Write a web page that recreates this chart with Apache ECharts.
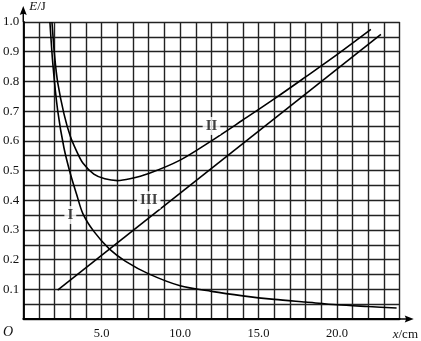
<!DOCTYPE html>
<html>
<head>
<meta charset="utf-8">
<script src="https://cdn.jsdelivr.net/npm/echarts@6/dist/echarts.min.js"></script>
<style>
html,body{margin:0;padding:0;background:#fff;}
#chart{width:421px;height:341px;}
</style>
</head>
<body>
<div id="chart"></div>
<script>
// Curve I (decreasing)
const curveIX = [1.70, 1.90, 2.2, 2.6, 3.0, 3.4, 3.8, 4.5, 5.5, 6.5, 8.0, 10.0, 12.0, 14.0, 16.0, 18.0, 20.0, 22.0, 23.8];
const curveIY = [1.0, 0.85, 0.70, 0.575, 0.49, 0.42, 0.355, 0.295, 0.235, 0.195, 0.152, 0.112, 0.093, 0.078, 0.066, 0.057, 0.048, 0.042, 0.037];
// Curve II (total)
const curveIIX = [1.83, 2.0, 2.2, 2.6, 3.0, 3.4, 3.8, 4.5, 5.2, 6.0, 6.8, 8.0, 10.0, 12.0, 14.0, 16.0, 18.0, 20.0, 22.16];
const curveIIY = [1.0, 0.885, 0.795, 0.69, 0.615, 0.565, 0.525, 0.488, 0.472, 0.466, 0.472, 0.49, 0.535, 0.60, 0.67, 0.741, 0.815, 0.89, 0.975];
// Line III (straight)
const lineIIIX = [2.19, 22.8];
const lineIIIY = [0.097, 0.958];
// Curve labels
const labelNames = ['I', 'II', 'III'];
const labelX = [3, 12, 8];
const labelY = [0.35, 0.65, 0.4];
// Ticks
const xTickLabels = [5, 10, 15, 20];
const yTickLabels = [0.1, 0.2, 0.3, 0.4, 0.5, 0.6, 0.7, 0.8, 0.9, 1.0];

const zip = (xs, ys) => xs.map((x, i) => [x, ys[i]]);
const serif = '"Liberation Serif", "DejaVu Serif", serif';
const gridLine = { color: '#222', width: 1.4 };
const curveStyle = { color: '#000', width: 1.6 };

const chart = echarts.init(document.getElementById('chart'), null, { renderer: 'canvas' });
chart.setOption({
  animation: false,
  backgroundColor: '#fff',
  grid: { left: 22, right: 17.5, top: 20.7, bottom: 20.3 },
  xAxis: {
    type: 'value', min: 0, max: 24, interval: 1,
    name: '{i|x}{n|/cm}', nameLocation: 'end', nameGap: -7,
    nameTextStyle: {
      align: 'left', verticalAlign: 'top', padding: [9, 0, 0, 0],
      rich: {
        i: { fontStyle: 'italic', fontFamily: serif, fontSize: 13, color: '#111' },
        n: { fontFamily: serif, fontSize: 13, color: '#111' }
      }
    },
    axisLine: {
      show: true, onZero: false,
      lineStyle: { color: '#000', width: 1.8 },
      symbol: ['none', 'path://M3.5,0 L7,9 L3.5,7.5 L0,9 Z M2.8,7 L4.2,7 L4.2,14 L2.8,14 Z'],
      symbolSize: [7, 14], symbolOffset: [0, 7]
    },
    axisTick: { show: false },
    axisLabel: {
      fontFamily: serif, fontSize: 12.5, color: '#111', margin: 8,
      formatter: v => (xTickLabels.indexOf(Math.round(v)) >= 0 && Math.abs(v - Math.round(v)) < 1e-6) ? v.toFixed(1) : ''
    },
    splitLine: { show: true, lineStyle: gridLine }
  },
  yAxis: {
    type: 'value', min: 0, max: 1, interval: 0.05,
    name: '{i|E}{n|/J}', nameLocation: 'end', nameGap: 9,
    nameTextStyle: {
      align: 'left', verticalAlign: 'bottom', padding: [0, 0, 0, 6],
      rich: {
        i: { fontStyle: 'italic', fontFamily: serif, fontSize: 13, color: '#111' },
        n: { fontFamily: serif, fontSize: 13, color: '#111' }
      }
    },
    axisLine: {
      show: true, onZero: false,
      lineStyle: { color: '#000', width: 1.8 },
      symbol: ['none', 'path://M3.5,0 L7,9 L3.5,7.5 L0,9 Z M2.8,7 L4.2,7 L4.2,16 L2.8,16 Z'],
      symbolSize: [7, 16], symbolOffset: [0, 8]
    },
    axisTick: { show: false },
    axisLabel: {
      fontFamily: serif, fontSize: 13, color: '#111', margin: 4,
      formatter: v => {
        const r = Math.round(v * 100) / 100;
        return yTickLabels.some(t => Math.abs(t - r) < 1e-6) ? r.toFixed(1) : '';
      }
    },
    splitLine: { show: true, lineStyle: gridLine }
  },
  graphic: [{
    type: 'text', left: 3, top: 325,
    style: { text: 'O', font: 'italic 14px ' + serif, fill: '#111' }
  }],
  series: [
    { name: 'I', type: 'line', data: zip(curveIX, curveIY), smooth: 0.3, showSymbol: false, lineStyle: curveStyle, silent: true },
    { name: 'II', type: 'line', data: zip(curveIIX, curveIIY), smooth: 0.3, showSymbol: false, lineStyle: curveStyle, silent: true },
    { name: 'III', type: 'line', data: zip(lineIIIX, lineIIIY), showSymbol: false, lineStyle: curveStyle, silent: true },
    {
      name: 'labels', type: 'scatter', symbolSize: 1, itemStyle: { color: 'rgba(0,0,0,0)' }, silent: true, z: 5,
      data: labelNames.map((n, i) => ({ name: n, value: [labelX[i], labelY[i]] })),
      label: {
        show: true, position: 'inside', formatter: p => p.name,
        fontFamily: serif, fontWeight: 'bold', fontSize: 15, color: '#111',
        backgroundColor: '#fff', padding: [2, 3, 1, 3]
      }
    }
  ]
});
</script>
</body>
</html>
